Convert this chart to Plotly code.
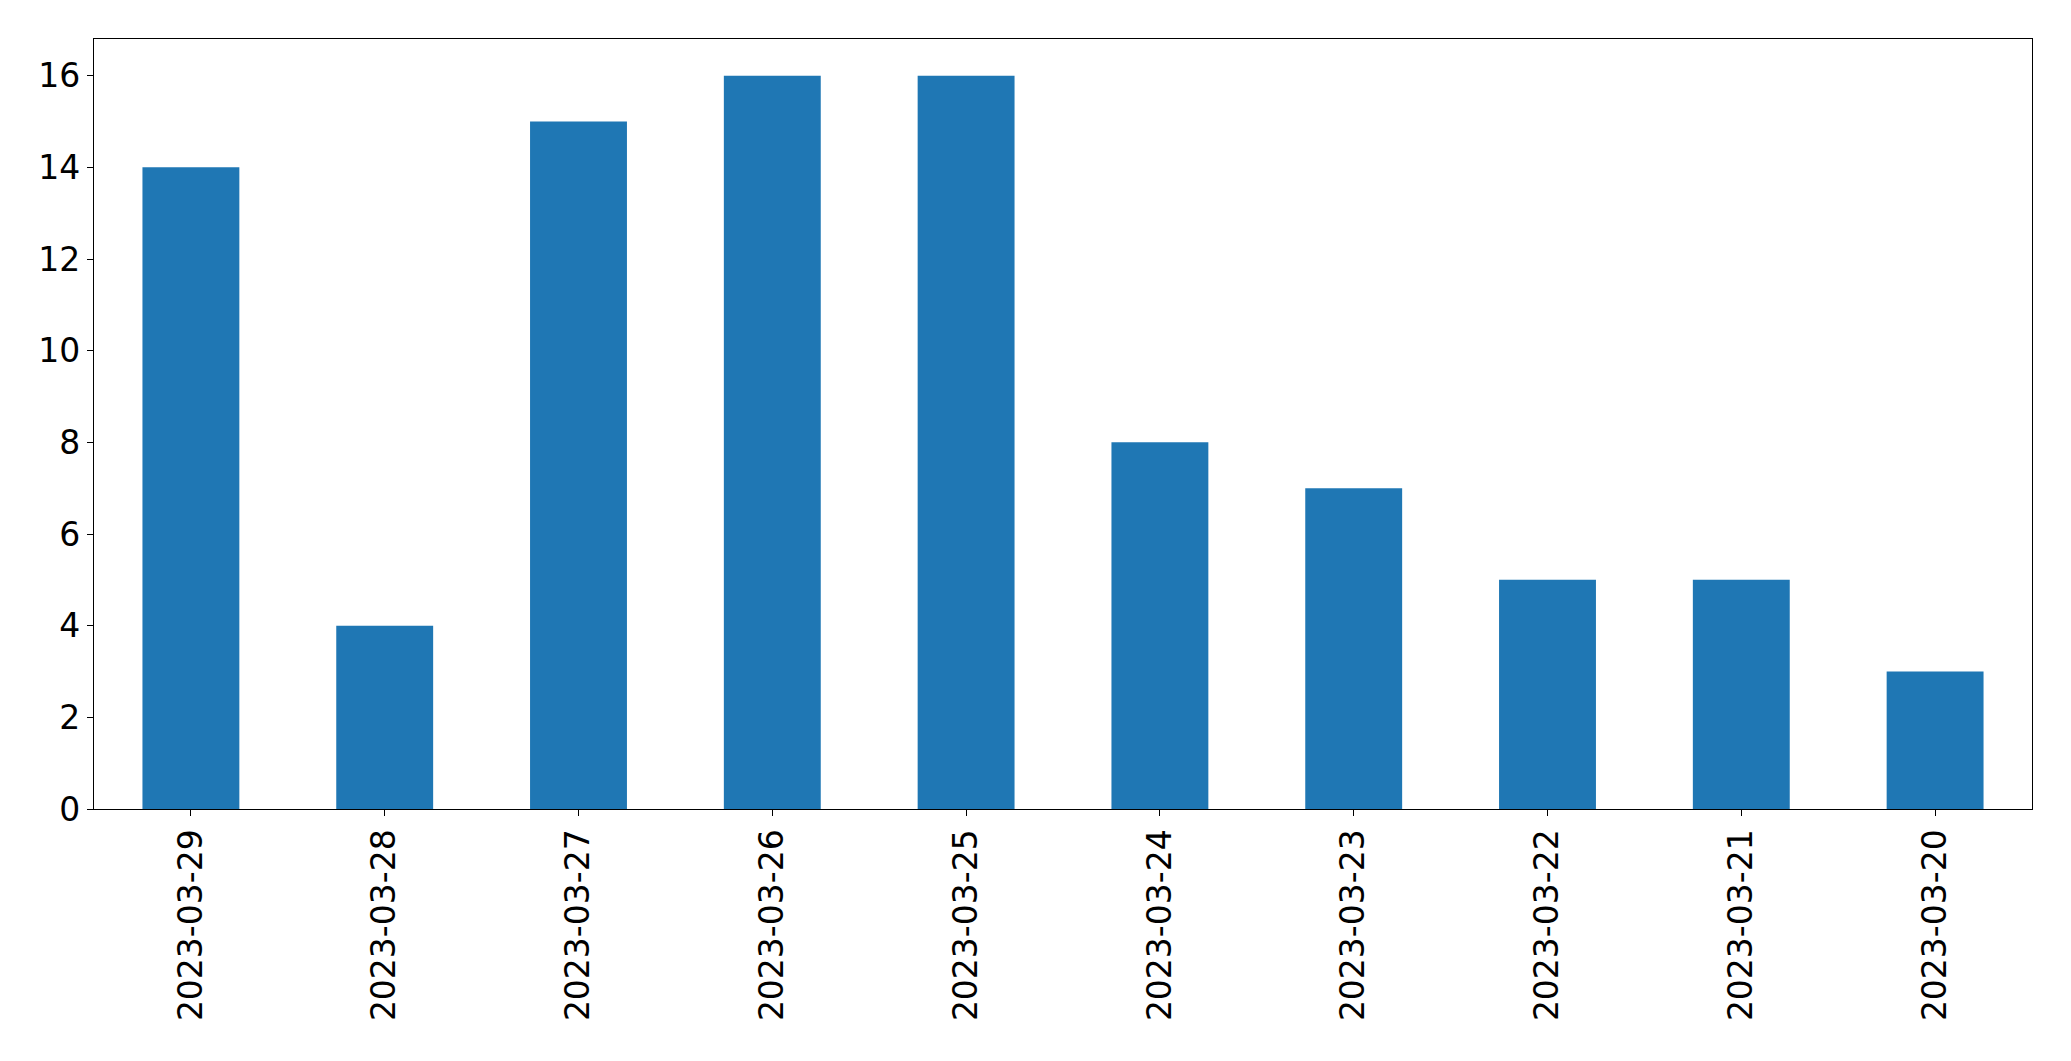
import plotly.graph_objects as go

dates = ["2023-03-29", "2023-03-28", "2023-03-27", "2023-03-26", "2023-03-25",
         "2023-03-24", "2023-03-23", "2023-03-22", "2023-03-21", "2023-03-20"]
counts = [14, 4, 15, 16, 16, 8, 7, 5, 5, 3]

fig = go.Figure(go.Bar(x=dates, y=counts, width=0.5, marker=dict(color="#1f77b4", line=dict(width=0))))

axis_common = dict(showline=True, linecolor="black", linewidth=1.3, mirror=True,
                   ticks="outside", ticklen=6, tickwidth=1.3, tickcolor="black",
                   showgrid=False, zeroline=False,
                   tickfont=dict(family="DejaVu Sans", size=33, color="black"))

fig.update_layout(
    width=2071, height=1061,
    margin=dict(l=94, r=39, t=39, b=252),
    plot_bgcolor="white", paper_bgcolor="white",
    showlegend=False,
    xaxis=dict(type="category", range=[-0.5, 9.5], tickangle=-90, **axis_common),
    yaxis=dict(range=[0, 16.8], tickvals=[0, 2, 4, 6, 8, 10, 12, 14, 16], **axis_common),
)

fig.write_html("out.html")
